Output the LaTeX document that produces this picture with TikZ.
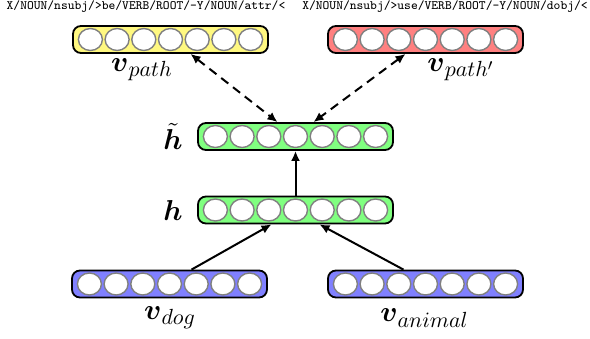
\documentclass[tikz,border=0pt]{standalone}
\usepackage{amsmath,amssymb}
\usepackage{xcolor}
\usepackage{tikz}
\usetikzlibrary{positioning,shapes.geometric,arrows.meta}

\tikzset{
  layer/.style={draw, rounded corners=4pt, line width=0.9pt, minimum width=97.5pt, minimum height=13.5pt, inner sep=0pt},
  unit/.style={draw=gray, fill=white, ellipse, line width=0.7pt, minimum width=12pt, minimum height=11pt, inner sep=0pt},
  link/.style={-{Latex[length=5pt,width=4.5pt]}, line width=1pt},
  sim/.style={{Latex[length=5pt,width=4.5pt]}-{Latex[length=5pt,width=4.5pt]}, line width=1pt, dash pattern=on 4.5pt off 3pt},
  pathtxt/.style={font=\fontsize{6.4}{7.5}\selectfont\ttfamily},
  vlabel/.style={font=\fontsize{15.5}{18}\selectfont},
}
% seven units inside a layer
\newcommand{\units}[1]{\foreach \i in {-3,...,3} \node[unit, xshift=\i*13.35pt] (#1-\i) at (#1) {};}

\begin{document}
\begin{tikzpicture}[x=0.5pt,y=-0.5pt]
  \useasboundingbox (0,0) rectangle (590,338);

  % path strings
  \node[pathtxt] (s1) at (146,7) {X/NOUN/nsubj/>be/VERB/ROOT/-Y/NOUN/attr/<};
  \node[pathtxt] (s2) at (445,7) {X/NOUN/nsubj/>use/VERB/ROOT/-Y/NOUN/dobj/<};

  % layers
  \node[layer, fill=yellow!50] (vpath) at (170.5,39.5) {};
  \node[layer, fill=red!50] (vpathp) at (425.5,39.5) {};
  \node[layer, fill=green!50] (htil) at (295.5,136.5) {};
  \node[layer, fill=green!50] (h) at (295.5,210) {};
  \node[layer, fill=blue!50] (vdog) at (169.5,284) {};
  \node[layer, fill=blue!50] (vanimal) at (425.5,284) {};

  \units{vpath}
  \units{vpathp}
  \units{htil}
  \units{h}
  \units{vdog}
  \units{vanimal}

  % labels
  \node[vlabel] (lpath) at (142,70) {$\boldsymbol{v}_{path}$};
  \node[vlabel] (lpathp) at (461,70) {$\boldsymbol{v}_{path'}$};
  \node[left=6pt of htil, inner sep=1pt] (lhtil) {\Large $\tilde{\boldsymbol{h}}$};
  \node[left=6pt of h, inner sep=1pt] (lh) {\Large $\boldsymbol{h}$};
  \node[vlabel] (ldog) at (170,318) {$\boldsymbol{v}_{dog}$};
  \node[vlabel] (lanimal) at (424.5,318) {$\boldsymbol{v}_{animal}$};

  % connections
  \draw[link] (h) -- (htil);
  \draw[link] ([xshift=11pt]vdog.north) -- ([xshift=-12pt]h.south);
  \draw[link] ([xshift=-11pt]vanimal.north) -- ([xshift=12pt]h.south);
  \draw[sim] ([xshift=10pt]vpath.south) -- ([xshift=-9pt]htil.north);
  \draw[sim] ([xshift=-10pt]vpathp.south) -- ([xshift=9pt]htil.north);
\end{tikzpicture}
\end{document}
